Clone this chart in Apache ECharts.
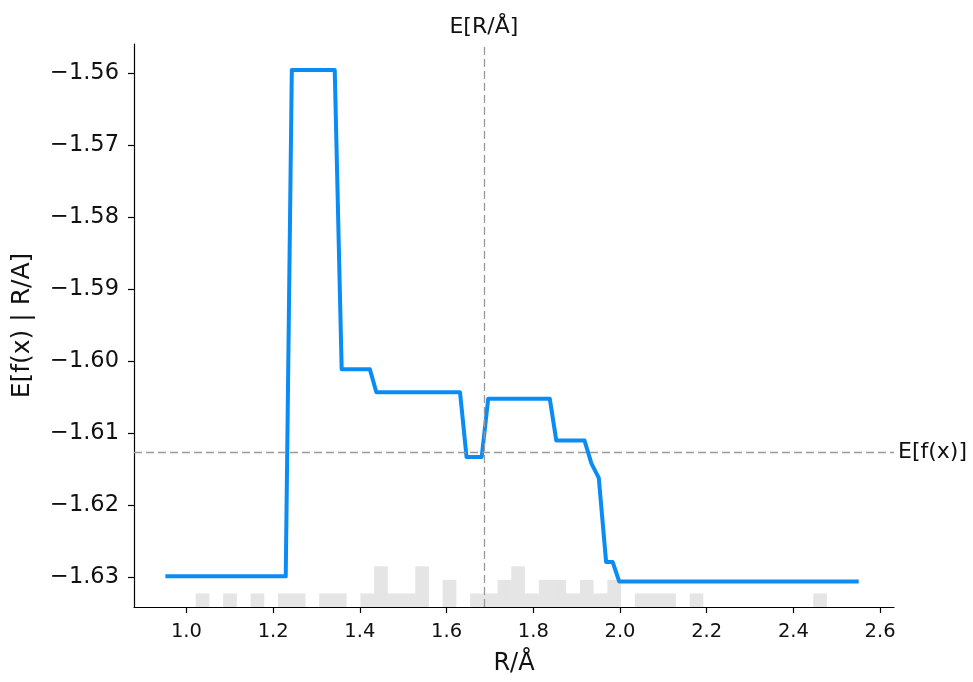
<!DOCTYPE html>
<html>
<head>
<meta charset="utf-8">
<script src="https://cdn.jsdelivr.net/npm/echarts@6/dist/echarts.min.js"></script>
<style>
html,body{margin:0;padding:0;background:#fff;}
#chart{width:973px;height:682px;}
</style>
</head>
<body>
<div id="chart"></div>
<script>
// Partial dependence line (R/Å -> E[f(x) | R/Å])
const lineX = [0.956, 1.229, 1.243, 1.342, 1.358, 1.423, 1.438, 1.631, 1.646, 1.681, 1.696, 1.838, 1.853, 1.918, 1.934, 1.951, 1.968, 1.983, 1.998, 2.546];
const lineY = [-1.6299, -1.6299, -1.5595, -1.5595, -1.6011, -1.6011, -1.6043, -1.6043, -1.6133, -1.6133, -1.6052, -1.6052, -1.6110, -1.6110, -1.6142, -1.6162, -1.6279, -1.6279, -1.6306, -1.6306];

// Histogram of the feature values (50 bins)
const histStart = 0.958;
const histBinWidth = 0.03165;
const histCounts = [0,0,1,0,1,0,1,0,1,1, 0,1,1,0,1,3,1,1,3,0, 2,0,1,1,2,3,1,2,2,1, 2,1,2,0,1,1,1,0,1,0, 0,0,0,0,0,0,0,1,0,0];

// Expected values
const meanX = 1.686;
const meanY = -1.6126;

// Ticks
const xTicks = [1.0, 1.2, 1.4, 1.6, 1.8, 2.0, 2.2, 2.4, 2.6];
const yTicks = [-1.63, -1.62, -1.61, -1.60, -1.59, -1.58, -1.57, -1.56];

const FONT = 'DejaVu Sans';
const linePoints = lineX.map((x, i) => [x, lineY[i]]);
const histData = [];
histCounts.forEach((c, i) => {
  if (c > 0) histData.push([histStart + i * histBinWidth, histStart + (i + 1) * histBinWidth, c]);
});

const chart = echarts.init(document.getElementById('chart'), null, {renderer: 'canvas'});
chart.setOption({
  animation: false,
  backgroundColor: '#ffffff',
  grid: {left: 134, right: 79, top: 44, bottom: 75, containLabel: false},
  xAxis: {
    type: 'value', min: 0.879, max: 2.632,
    name: 'R/Å', nameLocation: 'middle', nameGap: 45,
    nameTextStyle: {fontFamily: FONT, fontSize: 24, color: '#111'},
    axisLine: {show: true, onZero: false, lineStyle: {color: '#000', width: 1.2}},
    axisTick: {show: true, inside: false, length: 6, customValues: xTicks, lineStyle: {color: '#000', width: 1.2}},
    axisLabel: {show: true, customValues: xTicks, margin: 15, fontFamily: FONT, fontSize: 19.5, color: '#111',
      formatter: v => Number(v).toFixed(1)},
    splitLine: {show: false}
  },
  yAxis: [{
    type: 'value', min: -1.63416, max: -1.5559,
    name: 'E[f(x) | R/A]', nameLocation: 'middle', nameGap: 99, nameRotate: 90,
    nameTextStyle: {fontFamily: FONT, fontSize: 25, color: '#111'},
    axisLine: {show: true, onZero: false, lineStyle: {color: '#000', width: 1.2}},
    axisTick: {show: true, inside: false, length: 6, customValues: yTicks, lineStyle: {color: '#000', width: 1.2}},
    axisLabel: {show: true, customValues: yTicks, margin: 15, fontFamily: FONT, fontSize: 22.5, color: '#111',
      formatter: v => '\u2212' + Math.abs(v).toFixed(2)},
    splitLine: {show: false}
  }, {
    type: 'value', min: 0, max: 41.5, show: false,
    axisLine: {show: false}, axisTick: {show: false}, axisLabel: {show: false}, splitLine: {show: false}
  }],
  series: [{
    type: 'custom',
    name: 'hist',
    yAxisIndex: 1,
    z: 1,
    silent: true,
    clip: true,
    data: histData,
    renderItem: function (params, api) {
      const p0 = api.coord([api.value(0), 0]);
      const p1 = api.coord([api.value(1), api.value(2)]);
      return {
        type: 'rect',
        shape: {x: p0[0], y: p1[1], width: p1[0] - p0[0], height: p0[1] - p1[1]},
        style: {fill: 'rgba(0,0,0,0.1)'}
      };
    }
  }, {
    type: 'line',
    name: 'expected',
    z: 2,
    data: [],
    silent: true,
    markLine: {
      silent: true,
      precision: 6,
      symbol: ['none', 'none'],
      animation: false,
      lineStyle: {color: '#999999', type: [8, 4], width: 1.3},
      data: [
        {xAxis: meanX, label: {show: true, position: 'end', formatter: 'E[R/Å]', fontFamily: FONT, fontSize: 22, color: '#111', distance: 6}},
        {yAxis: meanY, label: {show: true, position: 'end', formatter: 'E[f(x)]', fontFamily: FONT, fontSize: 22, color: '#111', distance: 4}}
      ]
    }
  }, {
    type: 'line',
    name: 'pdp',
    z: 3,
    data: linePoints,
    showSymbol: false,
    symbol: 'none',
    silent: true,
    lineStyle: {color: '#0a8cf5', width: 4, cap: 'square', join: 'round'}
  }]
});
</script>
</body>
</html>
